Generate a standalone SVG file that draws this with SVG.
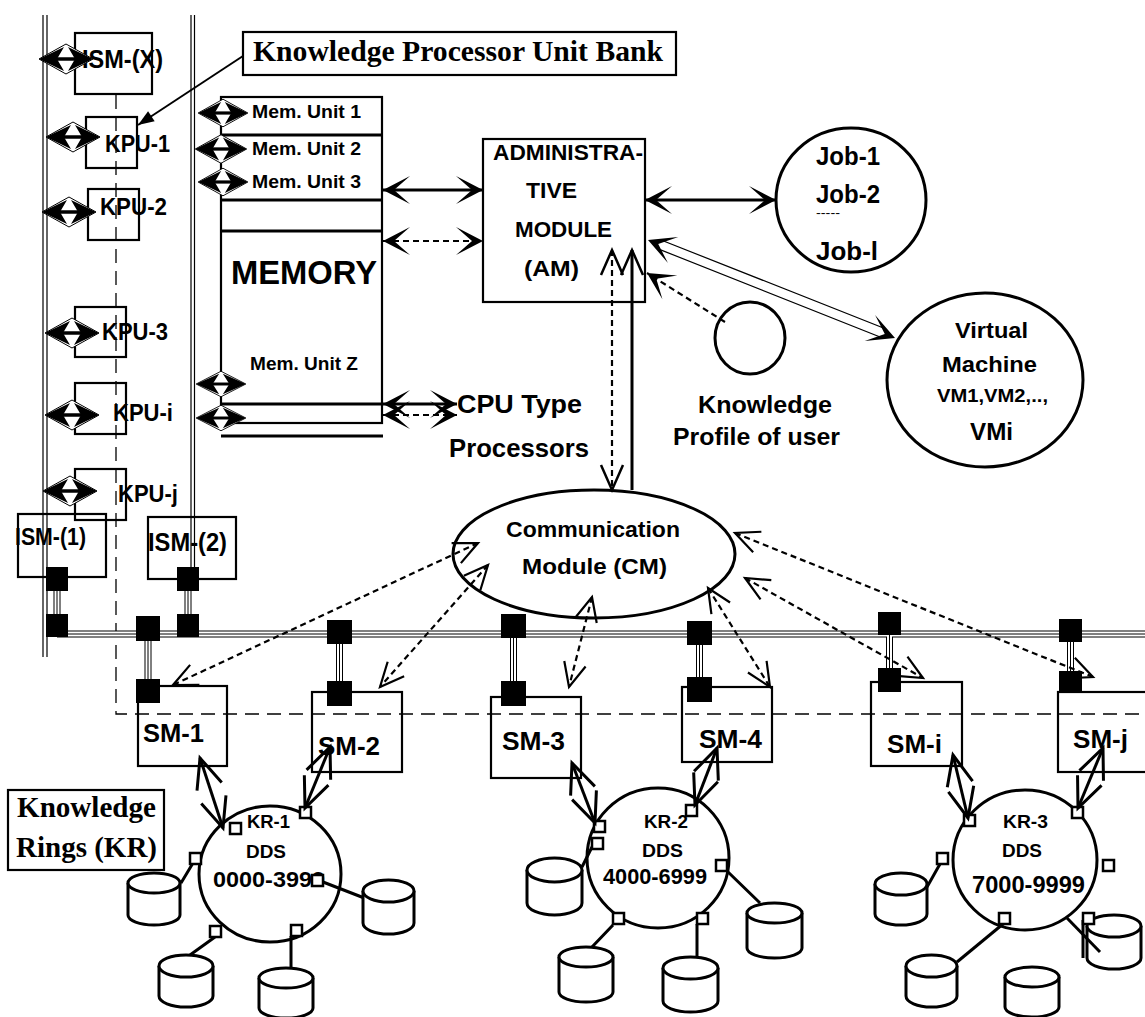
<svg xmlns="http://www.w3.org/2000/svg" xmlns:xlink="http://www.w3.org/1999/xlink" width="1145" height="1017" viewBox="0 0 1145 1017">
<style>
.c{font-family:"Liberation Sans",Arial,sans-serif;font-weight:bold;fill:#000}
.t{font-family:"Liberation Serif","Times New Roman",serif;font-weight:bold;fill:#000}
.box{fill:none;stroke:#000;stroke-width:2.2}
.thick{fill:none;stroke:#000;stroke-width:3}
.ln{fill:none;stroke:#000;stroke-width:3}
.dl{fill:none;stroke:#000;stroke-width:2.2;stroke-dasharray:6 4}
.thin{fill:none;stroke:#000;stroke-width:1.2}
.sq{fill:#000}
.hs{fill:#fff;stroke:#000;stroke-width:2.5}
.cyl{fill:#fff;stroke:#000;stroke-width:3}
.ring{fill:none;stroke:#000;stroke-width:3}
.b1{fill:none;stroke:#000;stroke-width:7}
.b2{fill:none;stroke:#fff;stroke-width:5}
.b3{fill:none;stroke:#000;stroke-width:1}
</style>
<defs>
<marker id="st" markerUnits="userSpaceOnUse" markerWidth="40" markerHeight="40" refX="0" refY="0" orient="auto-start-reverse" overflow="visible">
<path d="M0,0 L-27,-14 L-11,0 L-27,14 Z" fill="#000" stroke="none"/>
</marker>
<marker id="ov" markerUnits="userSpaceOnUse" markerWidth="40" markerHeight="40" refX="0" refY="0" orient="auto-start-reverse" overflow="visible">
<path d="M-24,-11 L0,0 L-24,11" fill="none" stroke="#000" stroke-width="2.2"/>
</marker>
<marker id="ovb" markerUnits="userSpaceOnUse" markerWidth="40" markerHeight="40" refX="0" refY="0" orient="auto-start-reverse" overflow="visible">
<path d="M-30,-13 L0,0 L-30,13" fill="none" stroke="#000" stroke-width="3"/>
</marker>
<marker id="ovu" markerUnits="userSpaceOnUse" markerWidth="40" markerHeight="40" refX="0" refY="0" orient="auto-start-reverse" overflow="visible">
<path d="M-25,-11 L0,0 L-25,11" fill="none" stroke="#000" stroke-width="2.5"/>
</marker>
<marker id="tri" markerUnits="userSpaceOnUse" markerWidth="30" markerHeight="30" refX="0" refY="0" orient="auto" overflow="visible">
<path d="M0,0 L-16,-6 L-16,6 Z" fill="#000"/>
</marker>
<g id="dbl">
<polygon points="-27,0 0,-15 27,0 0,15" fill="#fff" stroke="#000" stroke-width="1"/>
<line x1="-10" y1="0" x2="10" y2="0" stroke="#000" stroke-width="3.5"/>
<polygon points="-27,0 -2,-12 -9,0 -2,12" fill="#000"/>
<polygon points="27,0 2,-12 9,0 2,12" fill="#000"/>
</g>
<path id="busd" d="M57,634 H1145 M57,591 V614 M188,591 V614 M148,641 V679 M339.5,644 V681 M513.5,638 V681 M699.5,645 V677 M889.5,635 V668 M1070.5,642 V671"/>
</defs>
<rect x="0" y="0" width="1145" height="1017" fill="#fff"/>

<g id="bank-frame">
<path class="thin" d="M43,15 V657 M47,15 V657"/>
<path class="thin" d="M191,15 V567 M194.5,15 V567"/>
<path d="M116,95 V714 H1145" fill="none" stroke="#000" stroke-width="1.3" stroke-dasharray="14 8"/>
</g>

<g id="kpu-bank-label">
<rect class="box" x="243" y="32" width="433" height="43"/>
<text class="t" x="253" y="61" font-size="29" textLength="410" lengthAdjust="spacingAndGlyphs">Knowledge Processor Unit Bank</text>
</g>

<g id="ism-x">
<rect class="box" x="75" y="33" width="77" height="61"/>
<text class="c" x="82" y="68" font-size="26" textLength="81" lengthAdjust="spacingAndGlyphs">ISM-(X)</text>
</g>
<g id="kpu-1">
<rect class="box" x="86" y="117" width="51" height="51"/>
<text class="c" x="105" y="152" font-size="24" textLength="65" lengthAdjust="spacingAndGlyphs">KPU-1</text>
</g>
<g id="kpu-2">
<rect class="box" x="88" y="189" width="51" height="51"/>
<text class="c" x="100" y="215" font-size="24" textLength="67" lengthAdjust="spacingAndGlyphs">KPU-2</text>
</g>
<g id="kpu-3">
<rect class="box" x="75" y="307" width="51" height="50"/>
<text class="c" x="102" y="340" font-size="24" textLength="66" lengthAdjust="spacingAndGlyphs">KPU-3</text>
</g>
<g id="kpu-i">
<rect class="box" x="75" y="383" width="51" height="51"/>
<text class="c" x="113" y="421" font-size="24" textLength="60" lengthAdjust="spacingAndGlyphs">KPU-i</text>
</g>
<g id="kpu-j">
<rect class="box" x="75" y="469" width="51" height="51"/>
<text class="c" x="118" y="502" font-size="24" textLength="60" lengthAdjust="spacingAndGlyphs">KPU-j</text>
</g>
<g id="ism-1">
<rect class="box" x="18" y="514" width="88" height="63"/>
<text class="c" x="15" y="545" font-size="23" textLength="71" lengthAdjust="spacingAndGlyphs">ISM-(1)</text>
</g>
<g id="ism-2">
<rect class="box" x="148" y="517" width="88" height="62"/>
<text class="c" x="148" y="551" font-size="25" textLength="79" lengthAdjust="spacingAndGlyphs">ISM-(2)</text>
</g>

<g id="memory">
<rect class="box" x="221" y="97" width="161" height="326" stroke-width="2.5"/>
<path class="thick" d="M221,135 H383 M221,200 H383 M221,231 H383 M221,404 H383 M221,436 H383"/>
<text class="c" x="252" y="118" font-size="18" textLength="109" lengthAdjust="spacingAndGlyphs">Mem. Unit 1</text>
<text class="c" x="252" y="155" font-size="18" textLength="109" lengthAdjust="spacingAndGlyphs">Mem. Unit 2</text>
<text class="c" x="252" y="188" font-size="18" textLength="109" lengthAdjust="spacingAndGlyphs">Mem. Unit 3</text>
<text class="c" x="231" y="284" font-size="33" textLength="146" lengthAdjust="spacingAndGlyphs">MEMORY</text>
<text class="c" x="250" y="370" font-size="18" textLength="108" lengthAdjust="spacingAndGlyphs">Mem. Unit Z</text>
</g>

<g id="cpu-processors">
<text class="c" x="457" y="413" font-size="26" textLength="125" lengthAdjust="spacingAndGlyphs">CPU Type</text>
<text class="c" x="449" y="457" font-size="26" textLength="140" lengthAdjust="spacingAndGlyphs">Processors</text>
</g>

<g id="am">
<rect class="box" x="483" y="139" width="162" height="163" stroke-width="2.5"/>
<text class="c" x="493" y="160" font-size="22" textLength="150" lengthAdjust="spacingAndGlyphs">ADMINISTRA-</text>
<text class="c" x="526" y="198" font-size="22" textLength="51" lengthAdjust="spacingAndGlyphs">TIVE</text>
<text class="c" x="515" y="237" font-size="22" textLength="97" lengthAdjust="spacingAndGlyphs">MODULE</text>
<text class="c" x="524" y="276" font-size="22" textLength="55" lengthAdjust="spacingAndGlyphs">(AM)</text>
</g>

<g id="jobs">
<ellipse class="ring" cx="851" cy="200" rx="75" ry="72" stroke-width="2.5"/>
<text class="c" x="816" y="165" font-size="25" textLength="64" lengthAdjust="spacingAndGlyphs">Job-1</text>
<text class="c" x="816" y="203" font-size="25" textLength="64" lengthAdjust="spacingAndGlyphs">Job-2</text>
<text x="816" y="217" font-size="12" font-family="Liberation Sans, Arial, sans-serif" textLength="24" lengthAdjust="spacingAndGlyphs">-----</text>
<text class="c" x="816" y="260" font-size="25" textLength="62" lengthAdjust="spacingAndGlyphs">Job-l</text>
</g>

<g id="vm">
<ellipse class="ring" cx="985" cy="380" rx="98" ry="87" stroke-width="2.5"/>
<text class="c" x="955" y="338" font-size="22" textLength="73" lengthAdjust="spacingAndGlyphs">Virtual</text>
<text class="c" x="942" y="372" font-size="22" textLength="95" lengthAdjust="spacingAndGlyphs">Machine</text>
<text class="c" x="937" y="402" font-size="18" textLength="111" lengthAdjust="spacingAndGlyphs">VM1,VM2,..,</text>
<text class="c" x="970" y="440" font-size="23" textLength="43" lengthAdjust="spacingAndGlyphs">VMi</text>
</g>

<g id="knowledge-profile">
<ellipse class="ring" cx="750" cy="338" rx="35" ry="36" stroke-width="2"/>
<text class="c" x="698" y="413" font-size="24" textLength="134" lengthAdjust="spacingAndGlyphs">Knowledge</text>
<text class="c" x="673" y="445" font-size="24" textLength="167" lengthAdjust="spacingAndGlyphs">Profile of user</text>
</g>

<g id="cm">
<ellipse class="ring" cx="594" cy="554" rx="141" ry="64" stroke-width="2.5"/>
<text class="c" x="506" y="537" font-size="22" textLength="174" lengthAdjust="spacingAndGlyphs">Communication</text>
<text class="c" x="522" y="574" font-size="22" textLength="145" lengthAdjust="spacingAndGlyphs">Module (CM)</text>
</g>

<g id="sm-1">
<rect class="box" x="138" y="686" width="89" height="80" stroke-width="3"/>
<text class="c" x="143" y="742" font-size="25" textLength="61" lengthAdjust="spacingAndGlyphs">SM-1</text>
</g>
<g id="sm-2">
<rect class="box" x="312" y="692" width="90" height="80"/>
<text class="c" x="318" y="755" font-size="25" textLength="62" lengthAdjust="spacingAndGlyphs">SM-2</text>
</g>
<g id="sm-3">
<rect class="box" x="491" y="697" width="90" height="81"/>
<text class="c" x="502" y="750" font-size="25" textLength="63" lengthAdjust="spacingAndGlyphs">SM-3</text>
</g>
<g id="sm-4">
<rect class="box" x="682" y="687" width="90" height="75"/>
<text class="c" x="699" y="748" font-size="25" textLength="63" lengthAdjust="spacingAndGlyphs">SM-4</text>
</g>
<g id="sm-i">
<rect class="box" x="871" y="682" width="91" height="84"/>
<text class="c" x="887" y="753" font-size="25" textLength="55" lengthAdjust="spacingAndGlyphs">SM-i</text>
</g>
<g id="sm-j">
<rect class="box" x="1058" y="692" width="100" height="80"/>
<text class="c" x="1073" y="748" font-size="25" textLength="55" lengthAdjust="spacingAndGlyphs">SM-j</text>
</g>

<g id="kr-label">
<rect class="box" x="8" y="790" width="156" height="80"/>
<text class="t" x="17" y="817" font-size="29" textLength="139" lengthAdjust="spacingAndGlyphs">Knowledge</text>
<text class="t" x="16" y="857" font-size="29" textLength="141" lengthAdjust="spacingAndGlyphs">Rings (KR)</text>
</g>

<g id="kr-1">
<ellipse class="ring" cx="270" cy="874" rx="71" ry="68"/>
<path class="ln" d="M181,883 L193,863 M323,882 L372,901 M215,937 L190,955 M291,936 V968" stroke-width="2.5"/>
<path class="cyl" d="M128,883 V915 A26,10 0 0 0 180,915 V883"/><ellipse class="cyl" cx="154" cy="883" rx="26" ry="10"/>
<path class="cyl" d="M363,891 V923 A25.5,11 0 0 0 414,923 V891"/><ellipse class="cyl" cx="388.5" cy="891" rx="25.5" ry="11"/>
<path class="cyl" d="M159,966 V996 A27,11 0 0 0 213,996 V966"/><ellipse class="cyl" cx="186" cy="966" rx="27" ry="11"/>
<path class="cyl" d="M259,978 V1008 A27,10 0 0 0 313,1008 V978"/><ellipse class="cyl" cx="286" cy="978" rx="27" ry="10"/>
<text class="c" x="247" y="828" font-size="19" textLength="43" lengthAdjust="spacingAndGlyphs">KR-1</text>
<text class="c" x="246" y="858" font-size="19" textLength="40" lengthAdjust="spacingAndGlyphs">DDS</text>
<text class="c" x="213" y="887" font-size="22" textLength="112" lengthAdjust="spacingAndGlyphs">0000-3999</text>
<rect class="hs" x="230" y="823" width="11" height="11"/>
<rect class="hs" x="300" y="807" width="11" height="11"/>
<rect class="hs" x="190" y="853" width="11" height="11"/>
<rect class="hs" x="312" y="875" width="11" height="11"/>
<rect class="hs" x="210" y="926" width="11" height="11"/>
<rect class="hs" x="291" y="925" width="11" height="11"/>
</g>

<g id="kr-2">
<ellipse class="ring" cx="658" cy="858" rx="71" ry="70"/>
<path class="ln" d="M592,847 L582,867 M727,871 L760,903 M613,925 L592,947 M697,924 V957" stroke-width="2.5"/>
<path class="cyl" d="M527,870 V903 A27.5,12 0 0 0 582,903 V870"/><ellipse class="cyl" cx="554.5" cy="870" rx="27.5" ry="12"/>
<path class="cyl" d="M747,913 V948 A27.5,10 0 0 0 802,948 V913"/><ellipse class="cyl" cx="774.5" cy="913" rx="27.5" ry="10"/>
<path class="cyl" d="M559,957 V992 A27,10 0 0 0 613,992 V957"/><ellipse class="cyl" cx="586" cy="957" rx="27" ry="10"/>
<path class="cyl" d="M663,968 V1001 A27.5,11 0 0 0 718,1001 V968"/><ellipse class="cyl" cx="690.5" cy="968" rx="27.5" ry="11"/>
<text class="c" x="644" y="828" font-size="19" textLength="44" lengthAdjust="spacingAndGlyphs">KR-2</text>
<text class="c" x="642" y="857" font-size="19" textLength="41" lengthAdjust="spacingAndGlyphs">DDS</text>
<text class="c" x="603" y="884" font-size="22" textLength="104" lengthAdjust="spacingAndGlyphs">4000-6999</text>
<rect class="hs" x="594" y="821" width="11" height="11"/>
<rect class="hs" x="592" y="838" width="11" height="11"/>
<rect class="hs" x="686" y="805" width="11" height="11"/>
<rect class="hs" x="716" y="860" width="11" height="11"/>
<rect class="hs" x="613" y="913" width="11" height="11"/>
<rect class="hs" x="697" y="913" width="11" height="11"/>
</g>

<g id="kr-3">
<ellipse class="ring" cx="1025" cy="860" rx="72" ry="70"/>
<path class="ln" d="M940,864 L927,887" stroke-width="4"/>
<path class="ln" d="M1003,924 L957,962" stroke-width="6"/>
<path class="cyl" d="M875,884 V914 A26,11 0 0 0 927,914 V884"/><ellipse class="cyl" cx="901" cy="884" rx="26" ry="11"/>
<path class="cyl" d="M906,966 V996 A25.5,11 0 0 0 957,996 V966"/><ellipse class="cyl" cx="931.5" cy="966" rx="25.5" ry="11"/>
<path class="cyl" d="M1005,977 V1007 A27,10 0 0 0 1059,1007 V977"/><ellipse class="cyl" cx="1032" cy="977" rx="27" ry="10"/>
<path class="cyl" d="M1087,926 V958 A27,11 0 0 0 1141,958 V926"/><ellipse class="cyl" cx="1114" cy="926" rx="27" ry="11"/>
<path class="ln" d="M1067,918 L1100,952" stroke-width="2.5"/>
<path class="ln" d="M1083,920 V958" stroke-width="4"/>
<text class="c" x="1003" y="828" font-size="19" textLength="45" lengthAdjust="spacingAndGlyphs">KR-3</text>
<text class="c" x="1002" y="857" font-size="19" textLength="40" lengthAdjust="spacingAndGlyphs">DDS</text>
<text class="c" x="972" y="893" font-size="23" textLength="113" lengthAdjust="spacingAndGlyphs">7000-9999</text>
<rect class="hs" x="964" y="815" width="11" height="11"/>
<rect class="hs" x="1072" y="807" width="11" height="11"/>
<rect class="hs" x="937" y="853" width="11" height="11"/>
<rect class="hs" x="1103" y="860" width="11" height="11"/>
<rect class="hs" x="999" y="913" width="11" height="11"/>
<rect class="hs" x="1083" y="913" width="11" height="11"/>
</g>

<g id="connectors">
<use xlink:href="#busd" class="b1"/>
<use xlink:href="#busd" class="b2"/>
<use xlink:href="#busd" class="b3"/>
<rect class="sq" x="46" y="567" width="22" height="24"/>
<rect class="sq" x="46" y="614" width="22" height="23"/>
<rect class="sq" x="177" y="567" width="22" height="24"/>
<rect class="sq" x="177" y="614" width="22" height="23"/>
<rect class="sq" x="136" y="616" width="24" height="25"/>
<rect class="sq" x="136" y="679" width="24" height="24"/>
<rect class="sq" x="327" y="620" width="25" height="24"/>
<rect class="sq" x="327" y="681" width="25" height="25"/>
<rect class="sq" x="501" y="614" width="25" height="24"/>
<rect class="sq" x="501" y="681" width="25" height="25"/>
<rect class="sq" x="687" y="621" width="25" height="24"/>
<rect class="sq" x="687" y="677" width="25" height="25"/>
<rect class="sq" x="878" y="612" width="23" height="23"/>
<rect class="sq" x="878" y="668" width="23" height="24"/>
<rect class="sq" x="1059" y="619" width="23" height="23"/>
<rect class="sq" x="1059" y="671" width="23" height="22"/>

<path d="M243,56 L138,125" fill="none" stroke="#000" stroke-width="2" marker-end="url(#tri)"/>

<use xlink:href="#dbl" transform="translate(66,59)"/>
<use xlink:href="#dbl" transform="translate(73,137)"/>
<use xlink:href="#dbl" transform="translate(69,212)"/>
<use xlink:href="#dbl" transform="translate(72,333)"/>
<use xlink:href="#dbl" transform="translate(72,415)"/>
<use xlink:href="#dbl" transform="translate(70,491)"/>
<use xlink:href="#dbl" transform="translate(223,113) scale(0.92)"/>
<use xlink:href="#dbl" transform="translate(221,149) scale(0.95)"/>
<use xlink:href="#dbl" transform="translate(223,182) scale(0.92)"/>
<use xlink:href="#dbl" transform="translate(221,384) scale(0.92,0.85)"/>
<use xlink:href="#dbl" transform="translate(221,418) scale(0.92,0.85)"/>

<path class="ln" d="M383,190 L483,190" marker-start="url(#st)" marker-end="url(#st)"/>
<path class="dl" d="M383,241 L483,241" stroke-width="2.5" marker-start="url(#st)" marker-end="url(#st)"/>
<path class="ln" d="M383,404 L457,404" marker-start="url(#st)" marker-end="url(#st)"/>
<path class="dl" d="M383,415 L457,415" stroke-width="2.5" marker-start="url(#st)" marker-end="url(#st)"/>
<path class="ln" d="M645,200 L776,200" marker-start="url(#st)" marker-end="url(#st)"/>

<path class="thin" d="M661,240 L886,329 M657.5,248.6 L882,337.8" stroke-width="2.2"/>
<path d="M648,240 L895,338" fill="none" stroke="none" marker-start="url(#st)" marker-end="url(#st)"/>

<path class="dl" d="M725,322 L647,273" marker-end="url(#st)"/>

<path class="dl" d="M612,250 L612,490" stroke-width="2.5" marker-start="url(#ovu)" marker-end="url(#ovu)"/>
<path class="ln" d="M632,250 L632,490" marker-start="url(#ovu)"/>

<path class="dl" d="M478,543 L173,685" marker-start="url(#ov)" marker-end="url(#ov)"/>
<path class="dl" d="M488,565 L380,687" marker-start="url(#ov)" marker-end="url(#ov)"/>
<path class="dl" d="M592,597 L569,687" marker-start="url(#ov)" marker-end="url(#ov)"/>
<path class="dl" d="M708,588 L770,687" marker-start="url(#ov)" marker-end="url(#ov)"/>
<path class="dl" d="M745,578 L923,678" marker-start="url(#ov)" marker-end="url(#ov)"/>
<path class="dl" d="M735,533 L1093,677" marker-start="url(#ov)" marker-end="url(#ov)"/>

<path class="ln" d="M200,758 L223,828" marker-start="url(#ovb)" marker-end="url(#ovb)"/>
<path class="ln" d="M330,747 L305,808" marker-start="url(#ovb)" marker-end="url(#ovb)"/>
<path class="ln" d="M572,763 L595,823" marker-start="url(#ovb)" marker-end="url(#ovb)"/>
<path class="ln" d="M717,748 L695,805" marker-start="url(#ovb)" marker-end="url(#ovb)"/>
<path class="ln" d="M953,755 L968,818" marker-start="url(#ovb)" marker-end="url(#ovb)"/>
<path class="ln" d="M1103,748 L1078,808" marker-start="url(#ovb)" marker-end="url(#ovb)"/>
</g>
</svg>
